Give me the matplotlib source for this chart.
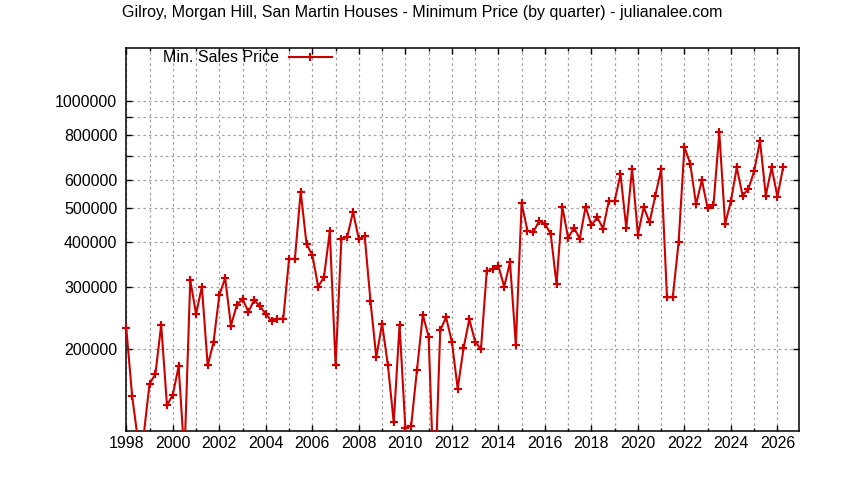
import matplotlib
matplotlib.use("Agg")
import matplotlib.pyplot as plt
from matplotlib.ticker import FixedLocator, FixedFormatter, MultipleLocator
import numpy as np

plt.rcParams['font.family'] = ['Liberation Sans', 'DejaVu Sans']

title = "Gilroy, Morgan Hill, San Martin Houses - Minimum Price (by quarter) - julianalee.com"
series_label = "Min. Sales Price"

start_year = 1998
quarters_per_year = 4
min_price = [
    229000, 148000, 111000, 115000, 160000, 170000, 234000, 139000,
    149000, 179000, 100000, 313000, 251000, 300000, 180000, 209000,
    284000, 317000, 233000, 266000, 277000, 255000, 275000, 264000,
    251000, 240000, 243000, 244000, 359000, 359000, 555000, 395000,
    368000, 300000, 319000, 429000, 180000, 409000, 414000, 487000,
    408000, 417000, 273000, 190000, 236000, 180000, 124500, 234000,
    120000, 122000, 175000, 250000, 217000, 75000, 226000, 246000,
    210000, 155000, 201000, 243000, 210000, 200000, 331000, 336000,
    343000, 300000, 351000, 206000, 514000, 431000, 427000, 458000,
    451000, 422000, 305000, 503000, 411000, 439000, 409000, 503000,
    446000, 470000, 437000, 522000, 522000, 621000, 439000, 644000,
    420000, 502000, 455000, 541000, 641000, 280000, 280000, 400000,
    741000, 665000, 511000, 598000, 498000, 510000, 814000, 450000,
    522000, 649000, 541000, 565000, 634000, 771000, 541000, 649000,
    537000, 653000,
]
y_ticks = [200000, 300000, 400000, 500000, 600000, 700000, 800000, 900000, 1000000]
y_tick_labels = ["200000", "300000", "400000", "500000", "600000", "", "800000", "", "1000000"]
x_tick_years = list(range(1998, 2027, 2))

t = start_year + np.arange(len(min_price)) / quarters_per_year
v = np.array(min_price, dtype=float)

fig = plt.figure(figsize=(8.44, 4.80), dpi=100)
ax = fig.add_axes([126.3 / 844, 1 - 430.7 / 480, (799.3 - 126.3) / 844, (430.7 - 48.3) / 480])

ylo, yhi = 118000, 1404000
ax.set_yscale('log')
ax.set_ylim(ylo, yhi)
ax.set_xlim(1998, 2026.94)

red = '#cc0000'
ax.plot(t, v, color=red, lw=1.5, marker='+', ms=6, mew=1.5, label=series_label, zorder=3)
inside = (v >= ylo) & (v <= yhi)
ax.plot(t[inside], v[inside], ls='none', color=red, marker='+', ms=6, mew=1.5,
        clip_on=False, zorder=4)

ax.yaxis.set_major_locator(FixedLocator(y_ticks))
ax.yaxis.set_major_formatter(FixedFormatter(y_tick_labels))
ax.yaxis.set_minor_locator(FixedLocator([]))
ax.xaxis.set_major_locator(FixedLocator(x_tick_years))
ax.xaxis.set_major_formatter(FixedFormatter([str(y) for y in x_tick_years]))
ax.xaxis.set_minor_locator(MultipleLocator(1))

ax.tick_params(axis='both', which='major', direction='in', length=4.5, width=1,
               top=True, right=True, labelsize=11.5, colors='black')
ax.tick_params(axis='x', which='minor', direction='in', length=2.5, width=1, top=True)
ax.tick_params(axis='y', which='major', pad=6.5)
ax.tick_params(axis='x', which='major', pad=3.5)

grid_kw = dict(color='#a0a0a0', lw=0.9, ls=(0, (2, 2.5)))
ax.grid(True, which='major', axis='both', **grid_kw)
ax.grid(True, which='minor', axis='x', **grid_kw)
ax.set_axisbelow(True)
for s in ax.spines.values():
    s.set_linewidth(1.1)
    s.set_color('black')

leg = ax.legend(loc='upper left', bbox_to_anchor=(0.055, 0.995), frameon=False,
                markerfirst=False, handlelength=2.7, handletextpad=0.6,
                borderpad=0, borderaxespad=0, fontsize=11.5)

fig.text(0.5, 1 - 13 / 480, title, ha='center', va='center', fontsize=11.5)

fig.savefig('out.png', dpi=100)
